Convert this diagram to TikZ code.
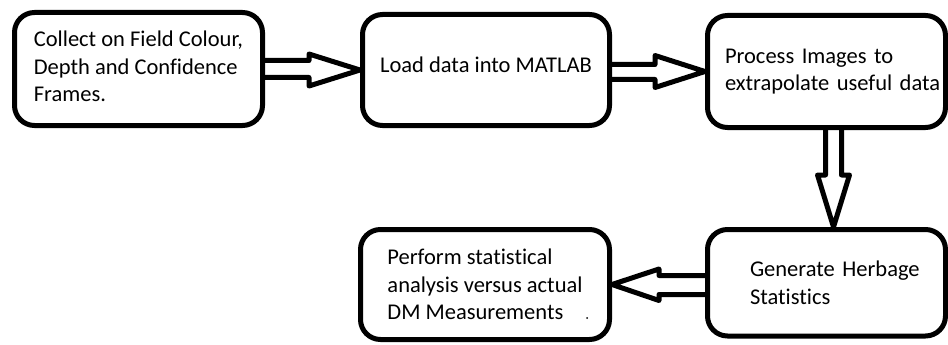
\documentclass[tikz,border=0pt]{standalone}
\usepackage{fontspec}
\setmainfont{Carlito}[Ligatures=CommonOff]
\usetikzlibrary{calc,backgrounds}
\begin{document}
\begin{tikzpicture}[x=1pt,y=-1pt,
  box/.style={draw, line width=5pt, rounded corners=20pt, align=left,
    font=\fontsize{22.5}{27.5}\selectfont, inner sep=0pt},
  barrow/.style={draw, line width=5pt, fill=white, line join=round}]
\useasboundingbox (0,0) rectangle (948,345);
\node[box, minimum width=248pt, minimum height=113pt, text depth=5pt] (c1) at (138.5,69)
  {Collect on Field Colour,\\Depth and Confidence\\Frames.};
\node[box, minimum width=247pt, minimum height=111pt, text depth=10.5pt] (c2) at (486,70)
  {Load data into MATLAB};
\node[box, minimum width=238pt, minimum height=112pt, text width=203pt] (c3) at (826.5,71.5)
  {\mbox{Process Images to}\\\mbox{extrapolate useful data}};
\node[box, minimum width=238pt, minimum height=106.5pt, text width=153pt] (c4) at (826.5,282.75)
  {\mbox{Generate Herbage}\\\mbox{Statistics}};
\node[box, minimum width=249pt, minimum height=110pt] (c5) at (485,284.5)
  {Perform statistical\\analysis versus actual\\DM Measurements};
\fill (587,318) circle (1pt);
\begin{scope}[on background layer]
\draw[barrow] ($(c1.east)+(0,-8.5)$) -- ($(c2.west)+(-51,-9.5)$) -- ($(c2.west)+(-51,-16)$)
  -- (c2.west) -- ($(c2.west)+(-51,16)$) -- ($(c2.west)+(-51,7.5)$) -- ($(c1.east)+(0,8.5)$);
\draw[barrow] ($(c2.east)+(0,-5.5)$) -- ($(c3.west)+(-50,-7)$) -- ($(c3.west)+(-50,-16)$)
  -- (c3.west) -- ($(c3.west)+(-50,16)$) -- ($(c3.west)+(-50,8)$) -- ($(c2.east)+(0,9.5)$);
\draw[barrow] ($(c3.south)+(-1,0)$) -- ($(c4.north)+(-1,-52)$) -- ($(c4.north)+(-9,-52)$)
  -- ($(c4.north)+(7,0)$) -- ($(c4.north)+(23,-52)$) -- ($(c4.north)+(15,-52)$) -- ($(c3.south)+(15,0)$);
\draw[barrow] ($(c4.west)+(0,-7.25)$) -- ($(c5.east)+(47,-9)$) -- ($(c5.east)+(47,-15.5)$)
  -- (c5.east) -- ($(c5.east)+(47,16)$) -- ($(c5.east)+(47,10)$) -- ($(c4.west)+(0,11.75)$);
\end{scope}
\end{tikzpicture}
\end{document}
